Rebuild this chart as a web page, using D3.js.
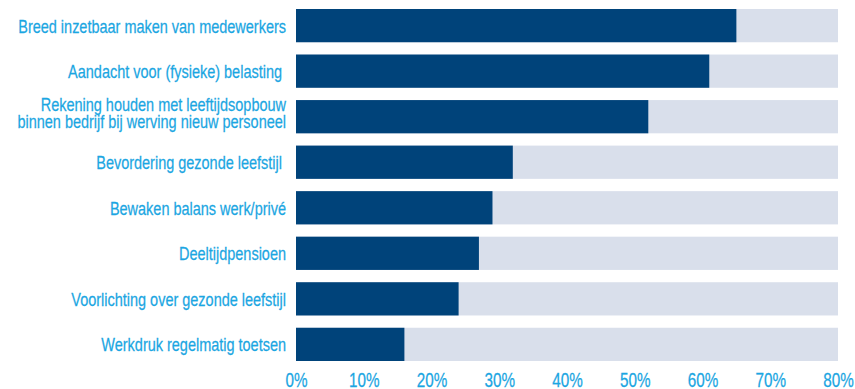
<!DOCTYPE html>
<html>
<head>
<meta charset="utf-8">
<script src="https://cdn.jsdelivr.net/npm/d3@7"></script>
<style>
  body { margin: 0; background: #fff; }
  text { font-family: "Liberation Sans", Arial, sans-serif; fill: #1ba6e2; white-space: pre; }
</style>
</head>
<body>
<svg id="chart" width="855" height="389"></svg>
<script>
// categories, top to bottom
const categories = [
  ["Breed inzetbaar maken van medewerkers"],
  ["Aandacht voor (fysieke) belasting "],
  ["Rekening houden met leeftijdsopbouw", "binnen bedrijf bij werving nieuw personeel"],
  ["Bevordering gezonde leefstijl "],
  ["Bewaken balans werk/privé"],
  ["Deeltijdpensioen"],
  ["Voorlichting over gezonde leefstijl"],
  ["Werkdruk regelmatig toetsen"]
];
const values = [65, 61, 52, 32, 29, 27, 24, 16];
const tickValues = [0, 10, 20, 30, 40, 50, 60, 70, 80];
const maxValue = 80;

const svg = d3.select('#chart');
const left = 296, right = 838;
const labelRight = 286;

const x = d3.scaleLinear().domain([0, maxValue]).range([left, right]);
const y = d3.scaleBand()
  .domain(d3.range(categories.length))
  .range([9, 361])
  .paddingInner(0.27)
  .paddingOuter(0);

const rows = svg.append('g').selectAll('g')
  .data(categories.map((c, i) => ({label: c, value: values[i], i})))
  .join('g');

// background track up to 80%
rows.append('rect')
  .attr('x', x(0))
  .attr('y', d => y(d.i))
  .attr('width', x(maxValue) - x(0))
  .attr('height', y.bandwidth())
  .style('fill', '#d9dfeb');

rows.append('rect')
  .attr('x', x(0))
  .attr('y', d => y(d.i))
  .attr('width', d => x(d.value) - x(0))
  .attr('height', y.bandwidth())
  .style('fill', '#00437a');

// labels (one or two lines), condensed by a horizontal scale
const lineH = 16.5;
const labels = rows.append('text')
  .attr('text-anchor', 'end')
  .style('font-size', '19px')
  .style('stroke', '#1ba6e2')
  .style('stroke-width', '0.25px')
  .each(function(d) {
    const t = d3.select(this);
    const cy = y(d.i) + y.bandwidth() / 2;
    const n = d.label.length;
    d.label.forEach((line, k) => {
      t.append('tspan')
        .attr('x', 0)
        .attr('y', cy + 7 - (n - 1) * 12.5 + k * lineH)
        .text(line);
    });
  });

// first label is 268px wide in the original
const sx = 268 / labels.node().getComputedTextLength();
labels.attr('transform', `translate(${labelRight},0) scale(${sx},1)`);

// x axis, labels only
const axis = d3.axisBottom(x)
  .tickValues(tickValues)
  .tickFormat(d => d + '%')
  .tickSize(0)
  .tickPadding(0);

const gx = svg.append('g')
  .attr('transform', 'translate(0,387)')
  .call(axis);
gx.select('.domain').remove();
gx.selectAll('text')
  .attr('y', 0)
  .attr('dy', null)
  .attr('transform', `scale(${sx},1)`)
  .style('font-size', '20px')
  .style('stroke', '#1ba6e2')
  .style('stroke-width', '0.25px')
  .style('fill', '#1ba6e2');
gx.attr('font-family', null).attr('font-size', null);
</script>
</body>
</html>
